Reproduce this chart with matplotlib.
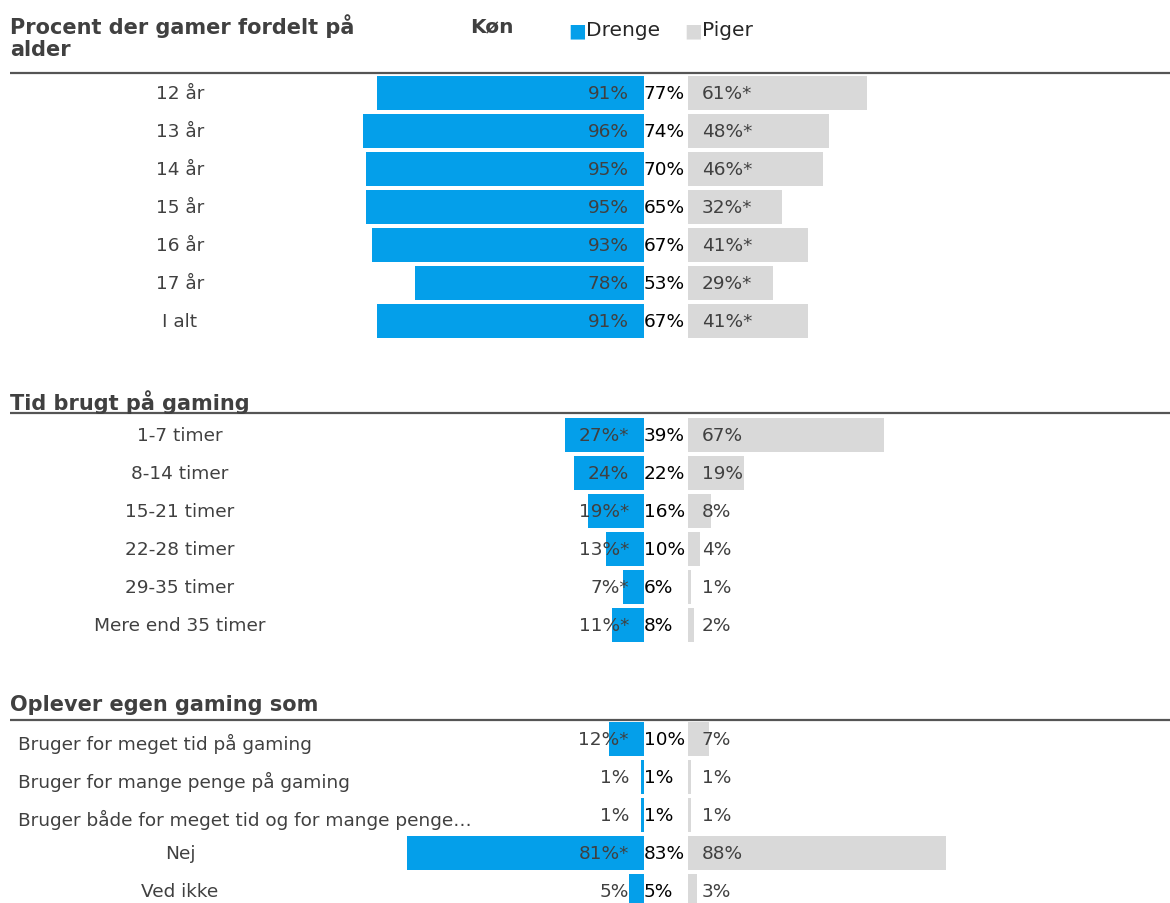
import matplotlib.pyplot as plt

plt.rcParams['font.family'] = ['DejaVu Sans']

BLUE = "#049FEA"
GRAY = "#D9D9D9"
TXT = "#404040"

# data
age_labels = ["12 år", "13 år", "14 år", "15 år", "16 år", "17 år", "I alt"]
age_drenge = [91, 96, 95, 95, 93, 78, 91]
age_total = [77, 74, 70, 65, 67, 53, 67]
age_piger = [61, 48, 46, 32, 41, 29, 41]
age_drenge_star = [False] * 7
age_piger_star = [True] * 7

tid_labels = ["1-7 timer", "8-14 timer", "15-21 timer", "22-28 timer",
              "29-35 timer", "Mere end 35 timer"]
tid_drenge = [27, 24, 19, 13, 7, 11]
tid_total = [39, 22, 16, 10, 6, 8]
tid_piger = [67, 19, 8, 4, 1, 2]
tid_drenge_star = [True, False, True, True, True, True]
tid_piger_star = [False] * 6

opl_labels = ["Bruger for meget tid på gaming",
              "Bruger for mange penge på gaming",
              "Bruger både for meget tid og for mange penge…",
              "Nej", "Ved ikke"]
opl_drenge = [12, 1, 1, 81, 5]
opl_total = [10, 1, 1, 83, 5]
opl_piger = [7, 1, 1, 88, 3]
opl_drenge_star = [True, False, False, True, False]
opl_piger_star = [False] * 5

sections = [
    ("Procent der gamer fordelt på\nalder", age_labels, age_drenge, age_total,
     age_piger, age_drenge_star, age_piger_star),
    ("Tid brugt på gaming", tid_labels, tid_drenge, tid_total, tid_piger,
     tid_drenge_star, tid_piger_star),
    ("Oplever egen gaming som", opl_labels, opl_drenge, opl_total, opl_piger,
     opl_drenge_star, opl_piger_star),
]

W, H = 1170, 904
PX = 2.93          # pixels per percent
X0 = 644           # pixel where the boys bars end
ROW = 38           # pixels per row
Y0 = 94            # pixel centre of first row
GAP = 44 / PX      # gap between the two bar groups, in percent

fig = plt.figure(figsize=(W / 100, H / 100), dpi=100)
ax = fig.add_axes([0, 0, 1, 1])
ax.set_xlim(-X0 / PX, (W - X0) / PX)
ax.set_ylim((H - Y0) / ROW, -Y0 / ROW)
ax.axis("off")

def px_x(p):
    return (p - X0) / PX

def px_y(p):
    return (p - Y0) / ROW

FS = 13.3
start_rows = [0, 9, 17]
line_px = [74, 414, 721]
title_px = [None, 402, 705]
for (title, labels, drenge, total, piger, dstar, pstar), r0, lp, tp in zip(
        sections, start_rows, line_px, title_px):
    ys = [r0 + i for i in range(len(labels))]
    ax.barh(ys, [-v for v in drenge], height=34 / ROW, color=BLUE)
    ax.barh(ys, piger, left=GAP, height=34 / ROW, color=GRAY)
    # header line
    ax.plot([px_x(10), px_x(W)], [px_y(lp), px_y(lp)], color="#555555", lw=1.6,
            solid_capstyle="butt")
    if tp is None:
        ax.text(px_x(10), px_y(37), title, fontsize=15, fontweight="bold",
                color=TXT, ha="left", va="center", linespacing=1.15)
    else:
        ax.text(px_x(10), px_y(tp), title, fontsize=15, fontweight="bold",
                color=TXT, ha="left", va="center")
    for y, lab, d, t, p, ds, ps in zip(ys, labels, drenge, total, piger, dstar, pstar):
        if lab.startswith("Bruger"):
            ax.text(px_x(18), y + 0.1, lab, fontsize=FS, color=TXT, ha="left", va="center")
        else:
            ax.text(px_x(180), y, lab, fontsize=FS, color=TXT, ha="center", va="center")
        ax.text(px_x(629), y, f"{d}%" + ("*" if ds else ""), fontsize=FS, color=TXT,
                ha="right", va="center")
        ax.text(px_x(644), y, f"{t}%", fontsize=FS, color="black",
                ha="left", va="center")
        ax.text(px_x(702), y, f"{p}%" + ("*" if ps else ""), fontsize=FS, color=TXT,
                ha="left", va="center")

# legend
ax.text(px_x(470), px_y(27), "Køn", fontsize=14.5, fontweight="bold", color=TXT,
        ha="left", va="center")
for x, name, col in [(568, "Drenge", BLUE), (684, "Piger", GRAY)]:
    ax.text(px_x(x), px_y(31), "■", fontsize=13.5, color=col, ha="left", va="center")
    ax.text(px_x(x + 18), px_y(31), name, fontsize=14.5, color="#262626",
            ha="left", va="center")

fig.savefig("out.png", dpi=100)
